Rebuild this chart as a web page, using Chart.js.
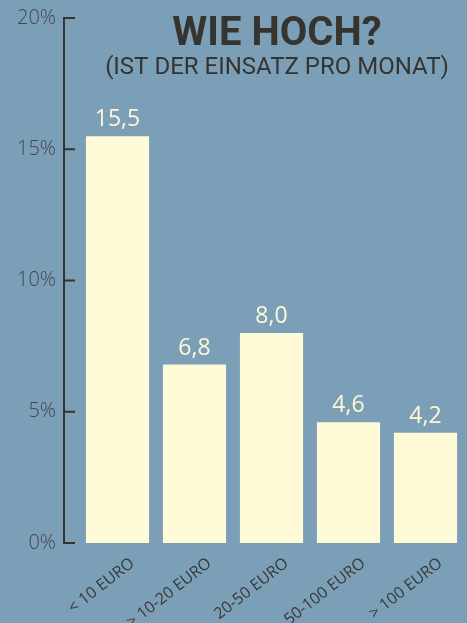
<!DOCTYPE html>
<html lang="de">
<head>
<meta charset="UTF-8">
<title>Wie hoch ist der Einsatz pro Monat</title>
<script src="https://cdn.jsdelivr.net/npm/chart.js"></script>
<style>
  html, body { margin: 0; padding: 0; background: #7c9fb8; }
  #wrap { position: relative; width: 467px; height: 623px; }
</style>
</head>
<body>
<div id="wrap"><canvas id="einsatzChart"></canvas></div>
<script>
// Einsatz pro Monat, Anteil in Prozent
const categories = ['< 10 EURO', '> 10-20 EURO', '20-50 EURO', '50-100 EURO', '> 100 EURO'];
const shares = [15.5, 6.8, 8.0, 4.6, 4.2];
const yTicks = [0, 5, 10, 15, 20];

const titleText = 'WIE HOCH?';
const subtitleText = '(IST DER EINSATZ PRO MONAT)';

const INK = '#35342f';
const BAR = '#fffad8';

// y axis line with tick marks pointing into the plot
const axisPlugin = {
  id: 'axisLine',
  afterDraw(chart) {
    const ctx = chart.ctx;
    const y = chart.scales.y;
    const x0 = 64;
    ctx.save();
    ctx.strokeStyle = INK;
    ctx.lineWidth = 2;
    ctx.beginPath();
    ctx.moveTo(x0, y.getPixelForValue(20));
    ctx.lineTo(x0, y.getPixelForValue(0));
    yTicks.forEach(v => {
      const py = y.getPixelForValue(v);
      ctx.moveTo(x0 - 1, py);
      ctx.lineTo(x0 + 11, py);
    });
    ctx.stroke();
    ctx.restore();
  }
};

// value above each bar, German decimal comma
const valuePlugin = {
  id: 'barValues',
  afterDatasetsDraw(chart) {
    const ctx = chart.ctx;
    const meta = chart.getDatasetMeta(0);
    ctx.save();
    ctx.fillStyle = '#fff8d6';
    ctx.font = '23px "Open Sans"';
    ctx.textAlign = 'center';
    ctx.textBaseline = 'alphabetic';
    meta.data.forEach((bar, i) => {
      ctx.fillText(shares[i].toFixed(1).replace('.', ','), bar.x, bar.y - 10);
    });
    ctx.restore();
  }
};

// headline block inside the plot area
const headPlugin = {
  id: 'headline',
  afterDraw(chart) {
    const ctx = chart.ctx;
    ctx.save();
    ctx.fillStyle = INK;
    ctx.textAlign = 'center';
    ctx.textBaseline = 'alphabetic';
    ctx.font = 'bold 40px Roboto';
    ctx.fillText(titleText, 277, 45);
    ctx.font = '24px Roboto';
    ctx.fillText(subtitleText, 277, 74);
    ctx.restore();
  }
};

new Chart(document.getElementById('einsatzChart'), {
  type: 'bar',
  data: {
    labels: categories,
    datasets: [{
      data: shares,
      backgroundColor: BAR,
      borderWidth: 0,
      barPercentage: 0.82,
      categoryPercentage: 1.0
    }]
  },
  options: {
    responsive: true,
    maintainAspectRatio: false,
    animation: false,
    layout: { padding: { top: 18, right: 3, bottom: 0, left: 0 } },
    plugins: {
      legend: { display: false },
      tooltip: { enabled: false }
    },
    scales: {
      x: {
        grid: { display: false },
        border: { display: false },
        ticks: {
          color: '#383837',
          font: { family: 'Open Sans', size: 16 },
          minRotation: 38,
          maxRotation: 38,
          autoSkip: false,
          padding: 3,
          labelOffset: 15
        },
        afterFit(scale) {
          scale.height = 80;
          scale.paddingTop = 0;
          scale.paddingBottom = 0;
        }
      },
      y: {
        min: 0,
        max: 20,
        grid: { display: false, drawTicks: false },
        border: { display: false },
        afterBuildTicks(scale) { scale.ticks = yTicks.map(v => ({ value: v })); },
        ticks: {
          color: '#41464c',
          font: { family: 'Open Sans', size: 20, weight: '300' },
          padding: 23,
          callback: v => v + '%'
        },
        afterFit(scale) {
          scale.width = 79;
          scale.paddingTop = 0;
          scale.paddingBottom = 0;
        }
      }
    }
  },
  plugins: [axisPlugin, valuePlugin, headPlugin]
});
</script>
</body>
</html>
